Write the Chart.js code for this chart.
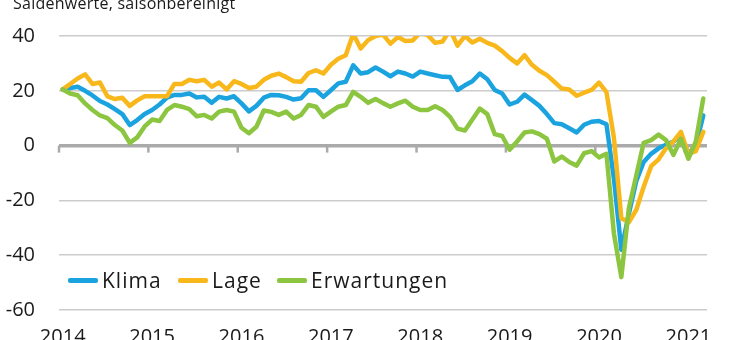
<!DOCTYPE html>
<html><head><meta charset="utf-8">
<script src="https://cdn.jsdelivr.net/npm/chart.js@4.4.1/dist/chart.umd.min.js"></script>
<style>
html,body{margin:0;padding:0;background:#fff;overflow:hidden;width:730px;height:340px;}
#wrap{position:relative;width:730px;height:350px;}
#title{position:absolute;left:13px;top:-5px;font-family:'Open Sans',sans-serif;font-size:16px;line-height:16px;color:#1a1a1a;white-space:nowrap;letter-spacing:0.25px;}
#legend{position:absolute;left:0;top:268px;width:730px;height:24px;font-family:'Open Sans',sans-serif;font-size:21px;line-height:24px;color:#1a1a1a;letter-spacing:1px;white-space:nowrap;}
.item{position:absolute;top:0;display:flex;align-items:center;height:24px;}
.swatch{width:30px;height:5px;margin-right:4px;border-radius:2px;}
</style></head><body>
<div id="wrap"><canvas id="c" width="730" height="350"></canvas><div id="title">Saldenwerte, saisonbereinigt</div><div id="legend"></div></div>
<script>
// Monthly values, Jan 2014 – Mar 2021 (Salden, saisonbereinigt)
const startYear = 2014;
const seriesNames = ['Klima', 'Lage', 'Erwartungen'];
const klima = [20.5,21,21.5,20,18.3,16.3,15,13.3,11.5,7.5,9.3,11.5,
  13,15,17.5,18.5,18.5,19,17.6,17.8,15.6,17.8,17.2,18,
  15.4,12.5,14.5,17.5,18.5,18.4,17.8,16.8,17.3,20.2,20.2,17.8,
  20.2,22.7,23.3,29.3,26.3,26.8,28.5,27,25.3,27,26.3,25.2,
  27,26.3,25.7,25.1,25,20.3,22,23.5,26.3,24.2,20.3,19,
  15,16,18.6,16.6,14.5,11.5,8.2,7.8,6.3,4.8,7.6,8.7,
  9,7.8,-12,-38,-25,-13,-6,-3,-1,0.3,1.5,3.5,
  -3,0,11];
const lage = [20.5,22.5,24.5,26,22.5,23,18,17,17.5,14.5,16.5,18,
  18,18,18,22.5,22.5,24,23.5,24,21.5,23,20.5,23.5,
  22.5,21,21.5,24,25.5,26.3,25,23.5,23.3,26.5,27.5,26.3,
  29.5,31.7,33,40.8,35.4,38.5,40,40.5,37.2,39.6,38.2,38.4,
  41.3,40.3,37.5,38,42.3,36.5,40,37.6,39,37.5,36.5,34.5,
  32,30,33,29.5,27.3,25.7,23.3,20.8,20.5,18.2,19.3,20.3,
  23,19.5,3,-26.5,-28,-23.5,-15,-7.5,-5,-1,1.5,5,
  -3,-2,5];
const erwartungen = [20.5,19,18.4,15.4,13,11,10,7.5,5.5,1,3,7,
  9.5,9,13,14.8,14.2,13.3,10.7,11.2,9.9,12.4,13,12.4,
  6.5,4.5,6.9,12.8,12.3,11.2,12.4,9.9,11.2,14.8,14.2,10.5,
  12.4,14.2,14.8,19.6,17.8,15.6,17,15.5,14.2,15.4,16.4,14.2,
  13,13,14.4,13,10.5,6.2,5.5,9.5,13.5,11.5,4.2,3.5,
  -1.5,1.5,4.8,5.2,4.2,2.5,-5.8,-4,-6,-7.3,-2.8,-2,
  -4.3,-3,-32,-48,-23,-11,1,2,4,2,-3.4,2.5,
  -4.8,1.5,17.2];
const yTicks = [-60, -40, -20, 0, 20, 40];
const colors = ['#1ba3e0', '#f8b81c', '#8cc540'];
const legendLeft = [68, 178, 277];

const months = klima.map((_, i) => `${startYear + Math.floor(i / 12)}-${String(i % 12 + 1).padStart(2, '0')}`);

const zeroTicks = {
  id: 'zeroTicks',
  beforeDatasetsDraw(chart) {
    const {ctx, scales: {x, y}} = chart;
    const y0 = y.getPixelForValue(0);
    const half = (x.getPixelForValue(1) - x.getPixelForValue(0)) / 2;
    ctx.save();
    ctx.strokeStyle = '#aaaaaa';
    ctx.lineWidth = 2.5;
    months.forEach((m, i) => {
      if (m.endsWith('-01')) {
        const px = x.getPixelForValue(i) - half;
        ctx.beginPath();
        ctx.moveTo(px, y0);
        ctx.lineTo(px, y0 + 7);
        ctx.stroke();
      }
    });
    ctx.restore();
  }
};

Chart.defaults.font.family = "'Open Sans', sans-serif";
const series = [klima, lage, erwartungen];
const chart = new Chart(document.getElementById('c'), {
  type: 'line',
  data: {
    labels: months,
    datasets: series.map((d, i) => ({
      label: seriesNames[i],
      data: d,
      borderColor: colors[i],
      backgroundColor: colors[i],
      borderWidth: 4.5,
      pointRadius: 0,
      tension: 0,
      borderJoinStyle: 'round',
      borderCapStyle: 'round',
      order: 2 - i
    }))
  },
  options: {
    responsive: false,
    animation: false,
    devicePixelRatio: 1,
    layout: {padding: {top: 34, right: 23, left: 0, bottom: 0}},
    plugins: {legend: {display: false}, tooltip: {enabled: false}},
    scales: {
      x: {
        type: 'category',
        offset: true,
        grid: {display: false, drawTicks: false},
        border: {display: false},
        afterFit(s) { s.height = 40; },
        ticks: {
          autoSkip: false, maxRotation: 0, minRotation: 0, padding: 15,
          color: '#1a1a1a', font: {size: 20},
          callback(v) { const l = this.getLabelForValue(v); return l.endsWith('-01') ? l.slice(0, 4) : ''; }
        }
      },
      y: {
        min: yTicks[0], max: yTicks[yTicks.length - 1],
        afterBuildTicks(s) { s.ticks = yTicks.map(v => ({value: v})); },
        afterFit(s) { s.width = 59; },
        border: {display: false},
        grid: {
          drawTicks: false,
          color: c => c.tick.value === 0 ? '#aaaaaa' : '#cccccc',
          lineWidth: c => c.tick.value === 0 ? 3.5 : 1.5
        },
        ticks: {padding: 24, color: '#1a1a1a', font: {size: 20}}
      }
    }
  },
  plugins: [zeroTicks]
});

const leg = document.getElementById('legend');
chart.data.datasets.forEach((ds, i) => {
  const it = document.createElement('div'); it.className = 'item'; it.style.left = legendLeft[i] + 'px';
  const sw = document.createElement('span'); sw.className = 'swatch'; sw.style.background = ds.borderColor;
  const tx = document.createElement('span'); tx.textContent = ds.label;
  it.appendChild(sw); it.appendChild(tx); leg.appendChild(it);
});
</script>
</body></html>
